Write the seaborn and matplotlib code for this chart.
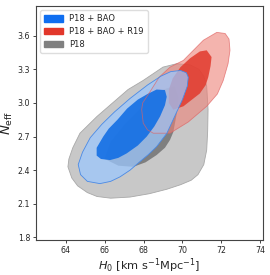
import matplotlib
matplotlib.use("Agg")
import matplotlib.pyplot as plt
import seaborn as sns
from matplotlib.patches import Patch

# contour outlines, as (H0, Neff) vertices
p18_outer_h0 = [64.1, 64.3, 64.6, 65.1, 65.6, 66.3, 67.3, 68.3, 69.2, 69.9, 70.45, 70.8, 71.1, 71.25, 71.3,
                71.32, 71.25, 71.1, 70.85, 70.4, 69.7, 69.0, 67.97, 67.2, 66.6, 65.6, 64.72, 64.35, 64.15]
p18_outer_ne = [2.43, 2.33, 2.26, 2.2, 2.165, 2.15, 2.16, 2.19, 2.23, 2.27, 2.31, 2.36, 2.45, 2.58, 2.75,
                2.94, 3.15, 3.24, 3.3, 3.34, 3.35, 3.32, 3.2, 3.12, 3.03, 2.88, 2.73, 2.6, 2.5]

p18_inner_h0 = [66.0, 66.7, 67.47, 68.1, 68.67, 69.1, 69.36, 69.53, 69.7, 69.8, 69.6, 69.0, 68.0, 67.0, 66.3]
p18_inner_ne = [2.5, 2.44, 2.43, 2.47, 2.535, 2.6, 2.67, 2.74, 2.9, 3.05, 3.15, 3.12, 2.98, 2.8, 2.65]

bao_outer_h0 = [64.63, 64.75, 65.1, 65.75, 66.3, 66.78, 67.3, 67.8, 68.25, 68.67, 69.2, 69.6, 70.0, 70.25,
                70.3, 70.2, 69.9, 69.4, 68.9, 68.2, 67.3, 66.5, 65.85, 65.25, 64.85]
bao_outer_ne = [2.45, 2.36, 2.3, 2.28, 2.3, 2.34, 2.4, 2.475, 2.54, 2.61, 2.73, 2.88, 3.03, 3.15,
                3.23, 3.27, 3.29, 3.28, 3.24, 3.16, 3.04, 2.92, 2.81, 2.69, 2.56]

bao_inner_h0 = [65.58, 65.8, 66.27, 66.7, 67.13, 67.7, 68.16, 68.55, 68.85, 69.1, 69.19, 69.1, 68.67, 68.2,
                67.7, 67.15, 66.65, 66.2, 65.92, 65.58]
bao_inner_ne = [2.53, 2.5, 2.49, 2.51, 2.55, 2.62, 2.7, 2.79, 2.88, 2.98, 3.055, 3.115, 3.12, 3.08,
                3.03, 2.95, 2.85, 2.77, 2.7, 2.6]

r19_outer_h0 = [68.5, 69.36, 70.3, 71.25, 71.8, 72.1, 72.35, 72.45, 72.4, 72.2, 71.77, 71.08, 70.05,
                69.36, 68.8, 68.33, 67.95, 67.9, 67.98, 68.2]
r19_outer_ne = [2.73, 2.73, 2.83, 2.97, 3.08, 3.2, 3.35, 3.47, 3.57, 3.62, 3.63, 3.56, 3.38,
                3.32, 3.23, 3.1, 3.0, 2.94, 2.82, 2.76]

r19_inner_h0 = [69.53, 70.05, 70.9, 71.2, 71.33, 71.45, 71.5, 71.25, 70.9, 70.4, 69.9, 69.5, 69.3, 69.3]
r19_inner_ne = [2.94, 2.97, 3.085, 3.16, 3.23, 3.33, 3.41, 3.47, 3.46, 3.4, 3.32, 3.22, 3.12, 3.0]

legend_labels = ["P18 + BAO", "P18 + BAO + R19", "P18"]

sns.set_style("ticks")
plt.rcParams["font.family"] = ["DejaVu Sans"]

fig = plt.figure(figsize=(2.7, 2.75), dpi=100)
ax = fig.add_axes([0.133, 0.127, 0.841, 0.851])

ax.fill(p18_outer_h0, p18_outer_ne, facecolor="#c8c8c8", edgecolor="#a8a8a8", lw=0.6, zorder=1)
ax.fill(p18_inner_h0, p18_inner_ne, facecolor="#7f7f7f", edgecolor="none", zorder=2)
ax.fill(r19_outer_h0, r19_outer_ne, facecolor="#ed8278", alpha=0.6, edgecolor="none", zorder=3)
ax.fill(r19_inner_h0, r19_inner_ne, facecolor="#e2392c", alpha=0.85, edgecolor="none", zorder=4)
ax.fill(bao_outer_h0, bao_outer_ne, facecolor="#9cc7fd", alpha=0.75, edgecolor="none", zorder=5)
ax.fill(bao_inner_h0, bao_inner_ne, facecolor="#126ee4", alpha=0.9, edgecolor="none", zorder=6)
# outlines on top, faint
ax.fill(r19_outer_h0, r19_outer_ne, facecolor="none", edgecolor="#e06262", alpha=0.7, lw=0.6, zorder=7)
ax.fill(bao_outer_h0, bao_outer_ne, facecolor="none", edgecolor="#4a8ae6", lw=0.6, zorder=8)

ax.set_xlim(62.45, 74.15)
ax.set_ylim(1.776, 3.865)
ax.set_xticks([64, 66, 68, 70, 72, 74])
ax.set_yticks([1.8, 2.1, 2.4, 2.7, 3.0, 3.3, 3.6])
ax.tick_params(labelsize=5.7, length=2.5, width=0.6, pad=1.5)
for s in ax.spines.values():
    s.set_linewidth(0.8)
    s.set_color("#444444")

ax.set_xlabel(r"$H_0\ [\mathrm{km\ s^{-1}Mpc^{-1}}]$", fontsize=8.2, labelpad=1)
ax.set_ylabel(r"$N_{\rm eff}$", fontsize=9.5, labelpad=2)

handles = [Patch(color="#0f6ef0"), Patch(color="#e2372b"), Patch(color="#808080")]
ax.legend(handles, legend_labels, loc="upper left", fontsize=6, frameon=True,
          handlelength=2.2, handleheight=0.8, borderpad=0.5, labelspacing=0.45,
          framealpha=1, edgecolor="#dddddd", fancybox=True)

fig.savefig("out.png", dpi=100)
